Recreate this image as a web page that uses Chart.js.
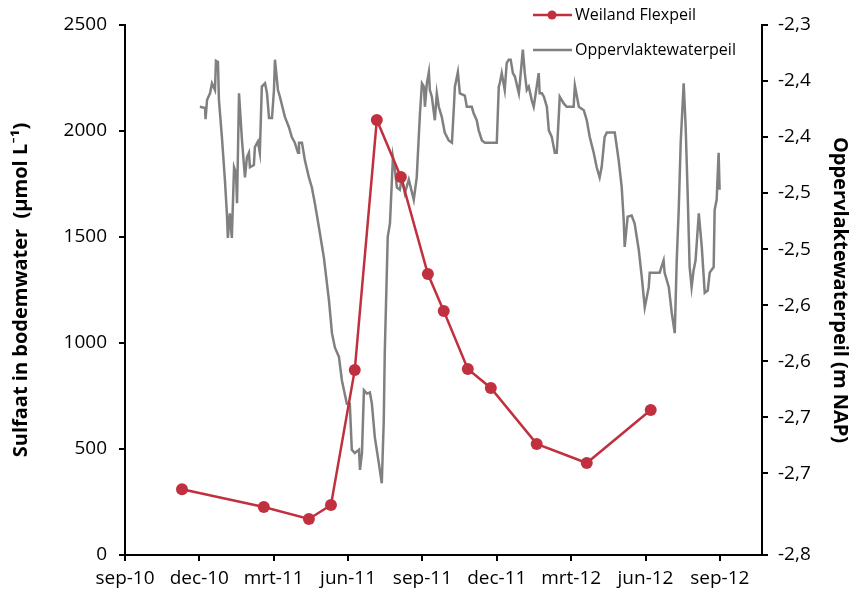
<!DOCTYPE html>
<html>
<head>
<meta charset="utf-8">
<script src="https://cdn.jsdelivr.net/npm/chart.js@4.4.0/dist/chart.umd.min.js"></script>
<style>
  html, body { margin: 0; padding: 0; background: #fff; }
  #wrap { width: 854px; height: 600px; }
</style>
</head>
<body>
<div id="wrap"><canvas id="chart" width="854" height="600"></canvas></div>
<script>
// x values are months since 1 sep 2010
const xTickValues = [0, 3, 6, 9, 12, 15, 18, 21, 24];
const xTickLabels = ['sep-10', 'dec-10', 'mrt-11', 'jun-11', 'sep-11', 'dec-11', 'mrt-12', 'jun-12', 'sep-12'];

const rightTickValues = [-2.773, -2.7, -2.65, -2.6, -2.55, -2.5, -2.45, -2.4, -2.35, -2.3];
const rightTickLabels = ['-2,8', '-2,7', '-2,7', '-2,6', '-2,6', '-2,5', '-2,5', '-2,4', '-2,4', '-2,3'];

// Weiland Flexpeil - sulfaat (umol/L)
const sulfaatMonths = [2.30, 5.60, 7.42, 8.31, 9.27, 10.16, 11.13, 12.22, 12.86, 13.83, 14.76, 16.61, 18.63, 21.21];
const sulfaatValues = [310, 226, 170, 236, 873, 2052, 1783, 1325, 1151, 877, 788, 524, 434, 684];

// Oppervlaktewaterpeil (m NAP)
const peilMonths = [
  3.02, 3.23, 3.25, 3.31, 3.43, 3.51, 3.63, 3.67, 3.75, 3.79, 3.91, 4.03, 4.11, 4.15, 4.23, 4.31,
  4.40, 4.48, 4.52, 4.60, 4.72, 4.84, 4.92, 5.00, 5.04, 5.20, 5.24, 5.36, 5.44, 5.52, 5.65, 5.73,
  5.81, 5.93, 6.01, 6.05, 6.17, 6.25, 6.45, 6.61, 6.73, 6.85, 6.98, 7.02, 7.14, 7.26, 7.42, 7.54,
  7.66, 7.82, 8.02, 8.23, 8.35, 8.47, 8.63, 8.75, 8.95, 9.07, 9.15, 9.27, 9.44, 9.48, 9.56, 9.64,
  9.76, 9.88, 9.96, 10.08, 10.24, 10.36, 10.44, 10.48, 10.60, 10.69, 10.81, 10.89, 10.97, 11.09,
  11.17, 11.29, 11.45, 11.65, 11.77, 11.90, 11.98, 12.06, 12.10, 12.18, 12.26, 12.30, 12.38, 12.50,
  12.58, 12.66, 12.78, 12.90, 13.06, 13.19, 13.27, 13.31, 13.43, 13.51, 13.71, 13.79, 13.99, 14.07,
  14.19, 14.27, 14.40, 14.52, 15.00, 15.08, 15.12, 15.20, 15.32, 15.40, 15.48, 15.56, 15.65, 15.73,
  15.89, 15.93, 16.05, 16.13, 16.21, 16.29, 16.41, 16.49, 16.53, 16.69, 16.73, 16.82, 16.90, 17.02,
  17.10, 17.22, 17.34, 17.42, 17.50, 17.54, 17.70, 17.82, 18.10, 18.15, 18.31, 18.51, 18.63, 18.75,
  18.91, 19.03, 19.15, 19.23, 19.35, 19.44, 19.76, 19.92, 20.04, 20.12, 20.16, 20.28, 20.44, 20.56,
  20.73, 20.85, 20.97, 21.13, 21.17, 21.57, 21.73, 21.77, 21.94, 22.06, 22.18, 22.26, 22.34, 22.42,
  22.54, 22.62, 22.70, 22.78, 22.86, 22.94, 23.02, 23.15, 23.27, 23.39, 23.51, 23.59, 23.75, 23.79,
  23.87, 23.95, 23.99
];
const peilValues = [
  -2.373, -2.374, -2.384, -2.367, -2.361, -2.352, -2.358, -2.332, -2.333, -2.367, -2.400, -2.438, -2.468, -2.490, -2.468, -2.490,
  -2.427, -2.432, -2.459, -2.361, -2.403, -2.436, -2.418, -2.414, -2.427, -2.425, -2.409, -2.404, -2.414, -2.355, -2.352, -2.361,
  -2.383, -2.383, -2.358, -2.331, -2.358, -2.364, -2.382, -2.391, -2.400, -2.405, -2.414, -2.405, -2.405, -2.421, -2.436, -2.445,
  -2.459, -2.480, -2.507, -2.546, -2.575, -2.588, -2.596, -2.617, -2.638, -2.638, -2.679, -2.682, -2.679, -2.697, -2.682, -2.626,
  -2.629, -2.628, -2.638, -2.668, -2.691, -2.709, -2.653, -2.593, -2.489, -2.477, -2.418, -2.429, -2.445, -2.447,
  -2.436, -2.450, -2.438, -2.456, -2.436, -2.379, -2.352, -2.355, -2.373, -2.352, -2.342, -2.358, -2.364, -2.385,
  -2.361, -2.373, -2.382, -2.396, -2.403, -2.405, -2.373, -2.355, -2.342, -2.361, -2.363, -2.373, -2.373, -2.379,
  -2.385, -2.394, -2.403, -2.405, -2.405, -2.355, -2.352, -2.343, -2.358, -2.334, -2.331, -2.331, -2.343, -2.346,
  -2.361, -2.352, -2.322, -2.343, -2.358, -2.355, -2.367, -2.373, -2.367, -2.343, -2.361, -2.361, -2.364, -2.373,
  -2.394, -2.400, -2.414, -2.414, -2.382, -2.364, -2.370, -2.373, -2.373, -2.354, -2.373, -2.376, -2.385, -2.400,
  -2.414, -2.427, -2.436, -2.427, -2.400, -2.396, -2.396, -2.421, -2.445, -2.474, -2.498, -2.471, -2.470, -2.477,
  -2.501, -2.525, -2.552, -2.534, -2.521, -2.521, -2.510, -2.521, -2.534, -2.557, -2.575, -2.510, -2.465, -2.405,
  -2.352, -2.391, -2.450, -2.516, -2.534, -2.519, -2.510, -2.468, -2.498, -2.539, -2.537, -2.521, -2.516, -2.465,
  -2.456, -2.414, -2.447
];

const RED = '#c1303f';
const GREY = '#808080';
const FONT = '"Open Sans", Lato, sans-serif';

// legend drawn by hand, stacked at the top right like the original
const legendPlugin = {
  id: 'stackLegend',
  afterDraw(chart) {
    const ctx = chart.ctx;
    ctx.save();
    ctx.font = '16px ' + FONT;
    ctx.fillStyle = '#000';
    ctx.textBaseline = 'middle';
    ctx.lineWidth = 2.5;

    ctx.strokeStyle = RED;
    ctx.beginPath(); ctx.moveTo(533, 15); ctx.lineTo(572, 15); ctx.stroke();
    ctx.fillStyle = RED;
    ctx.beginPath(); ctx.arc(552, 15, 4.5, 0, Math.PI * 2); ctx.fill();
    ctx.fillStyle = '#000';
    ctx.fillText('Weiland Flexpeil', 575, 15);

    ctx.strokeStyle = GREY;
    ctx.beginPath(); ctx.moveTo(533, 50); ctx.lineTo(572, 50); ctx.stroke();
    ctx.fillText('Oppervlaktewaterpeil', 575, 50);
    ctx.restore();
  }
};

const axisCommon = {
  grid: { drawOnChartArea: false, drawTicks: true, tickLength: 6, color: '#000', lineWidth: 2 },
  border: { color: '#000', width: 2 }
};

new Chart(document.getElementById('chart'), {
  type: 'line',
  data: {
    datasets: [
      {
        label: 'Weiland Flexpeil',
        data: sulfaatMonths.map((m, i) => ({ x: m, y: sulfaatValues[i] })),
        borderColor: RED,
        backgroundColor: RED,
        borderWidth: 2.5,
        pointRadius: 6,
        pointBackgroundColor: RED,
        pointBorderWidth: 0,
        yAxisID: 'y'
      },
      {
        label: 'Oppervlaktewaterpeil',
        data: peilMonths.map((m, i) => ({ x: m, y: peilValues[i] })),
        borderColor: GREY,
        borderWidth: 2.5,
        pointRadius: 0,
        yAxisID: 'y1'
      }
    ]
  },
  options: {
    responsive: false,
    animation: false,
    layout: { padding: { top: 25, left: 0, right: 0, bottom: 0 } },
    plugins: { legend: { display: false }, tooltip: { enabled: false } },
    scales: {
      x: {
        type: 'linear',
        min: 0,
        max: 25.7,
        afterBuildTicks: s => { s.ticks = xTickValues.map(v => ({ value: v })); },
        afterFit: s => { s.height = 45; },
        ticks: {
          autoSkip: false,
          maxRotation: 0,
          padding: 6,
          color: '#000',
          font: { family: FONT, size: 19 },
          callback: (v, i) => xTickLabels[i]
        },
        ...axisCommon
      },
      y: {
        position: 'left',
        min: 0,
        max: 2500,
        afterFit: s => { s.width = 125; },
        ticks: {
          stepSize: 500,
          padding: 12,
          color: '#000',
          font: { family: FONT, size: 19 },
          callback: v => String(v)
        },
        title: {
          display: true,
          text: 'Sulfaat in bodemwater  (µmol L⁻¹)',
          color: '#000',
          font: { family: FONT, size: 20, weight: 'bold' },
          padding: { top: 9, bottom: 0 }
        },
        ...axisCommon
      },
      y1: {
        position: 'right',
        min: -2.773,
        max: -2.3,
        afterBuildTicks: s => { s.ticks = rightTickValues.map(v => ({ value: v })); },
        afterFit: s => { s.width = 92; },
        ticks: {
          padding: 10,
          color: '#000',
          font: { family: FONT, size: 19 },
          callback: (v, i) => rightTickLabels[i]
        },
        title: {
          display: true,
          text: 'Oppervlaktewaterpeil (m NAP)',
          color: '#000',
          font: { family: FONT, size: 20, weight: 'bold' },
          padding: { top: 2, bottom: 0 }
        },
        ...axisCommon
      }
    }
  },
  plugins: [legendPlugin]
});
</script>
</body>
</html>
